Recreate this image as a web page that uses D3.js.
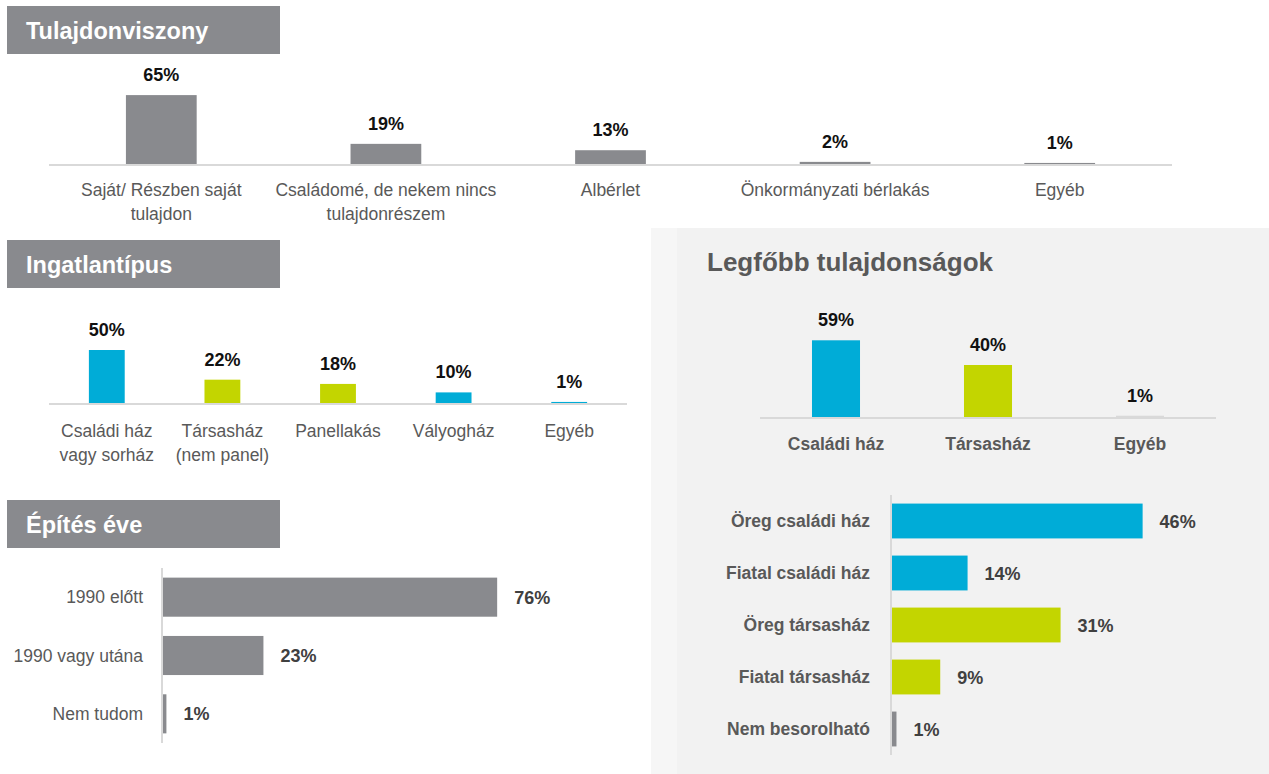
<!DOCTYPE html>
<html>
<head>
<meta charset="utf-8">
<script src="https://cdn.jsdelivr.net/npm/d3@7"></script>
<style>
  body { margin: 0; background: #fff; }
  svg { display: block; font-family: "Liberation Sans", Arial, sans-serif; }
</style>
</head>
<body>
<div id="chart"></div>
<script>
// Tulajdonviszony
const ownCats = [["Saját/ Részben saját", "tulajdon"], ["Családomé, de nekem nincs", "tulajdonrészem"], ["Albérlet"], ["Önkormányzati bérlakás"], ["Egyéb"]]
const ownVals = [65, 19, 13, 2, 1]

// Ingatlantípus
const typeCats = [["Családi ház", "vagy sorház"], ["Társasház", "(nem panel)"], ["Panellakás"], ["Vályogház"], ["Egyéb"]]
const typeVals = [50, 22, 18, 10, 1]
const typeKinds = ["csaladi", "tarsas", "tarsas", "csaladi", "csaladi"]

// Építés éve
const yearCats = ["1990 előtt", "1990 vagy utána", "Nem tudom"]
const yearVals = [76, 23, 1]

// Legfőbb tulajdonságok
const mainCats = ["Családi ház", "Társasház", "Egyéb"]
const mainVals = [59, 40, 1]
const mainKinds = ["csaladi", "tarsas", "rejtett"]

const subCats = ["Öreg családi ház", "Fiatal családi ház", "Öreg társasház", "Fiatal társasház", "Nem besorolható"]
const subVals = [46, 14, 31, 9, 1]
const subKinds = ["csaladi", "csaladi", "tarsas", "tarsas", "egyeb"]

const GRAY = "#898a8e"
const kindColor = d3.scaleOrdinal()
    .domain(["csaladi", "tarsas", "egyeb", "rejtett"])
    .range(["#00acd7", "#c3d500", GRAY, "#d9d9d9"])

const svg = d3.select("#chart")
    .append("svg")
    .attr("width", 1269)
    .attr("height", 774)

// right panel background
svg.append("rect")
    .attr("x", 651).attr("y", 228)
    .attr("width", 618).attr("height", 546)
    .attr("fill", "#f2f2f2")
svg.append("rect")
    .attr("x", 651).attr("y", 228)
    .attr("width", 26).attr("height", 546)
    .attr("fill", "#f6f6f6")

function titleBox(y, text) {
    svg.append("rect")
        .attr("x", 7).attr("y", y)
        .attr("width", 273).attr("height", 48)
        .attr("fill", GRAY)
    svg.append("text")
        .attr("x", 26).attr("y", y + 33)
        .style("font-size", "23.5px")
        .style("font-weight", "bold")
        .attr("fill", "#fff")
        .text(text)
}

function columnChart(opts) {
    const { cats, vals, colors, x0, x1, base, pxPer, barFrac, catStyle } = opts
    const x = d3.scaleBand().domain(d3.range(cats.length)).range([x0, x1]).padding(0)
    const y = d3.scaleLinear().domain([0, 100]).range([base, base - 100 * pxPer])
    const bw = x.bandwidth() * barFrac
    const g = svg.append("g")

    g.selectAll("rect.bar")
        .data(vals)
        .join("rect")
        .attr("class", "bar")
        .attr("x", (d, i) => x(i) + x.bandwidth() / 2 - bw / 2)
        .attr("y", d => y(d))
        .attr("width", bw)
        .attr("height", d => base - y(d))
        .attr("fill", (d, i) => colors[i])

    g.append("line")
        .attr("x1", x0).attr("x2", x1)
        .attr("y1", base + 1).attr("y2", base + 1)
        .attr("stroke", "#d9d9d9")
        .attr("stroke-width", 2)

    g.selectAll("text.val")
        .data(vals)
        .join("text")
        .attr("class", "val")
        .attr("x", (d, i) => x(i) + x.bandwidth() / 2)
        .attr("y", d => y(d) - 14)
        .attr("text-anchor", "middle")
        .style("font-size", "18px")
        .style("font-weight", "bold")
        .attr("fill", "#111")
        .text(d => d + "%")

    cats.forEach((lines, i) => {
        const t = g.append("text")
            .attr("x", x(i) + x.bandwidth() / 2)
            .attr("y", base + catStyle.dy)
            .attr("text-anchor", "middle")
            .style("font-size", catStyle.size)
            .style("font-weight", catStyle.weight)
            .attr("fill", "#595959")
        ;[].concat(lines).forEach((line, j) => {
            t.append("tspan")
                .attr("x", x(i) + x.bandwidth() / 2)
                .attr("dy", j === 0 ? 0 : 24)
                .text(line)
        })
    })
}

function barChart(opts) {
    const { cats, vals, colors, y0, y1, axisX, pxPer, barFrac, labelX, catStyle } = opts
    const y = d3.scaleBand().domain(d3.range(cats.length)).range([y0, y1]).padding(0)
    const x = d3.scaleLinear().domain([0, 100]).range([axisX, axisX + 100 * pxPer])
    const bh = y.bandwidth() * barFrac
    const g = svg.append("g")

    g.selectAll("rect.bar")
        .data(vals)
        .join("rect")
        .attr("class", "bar")
        .attr("x", axisX)
        .attr("y", (d, i) => y(i) + y.bandwidth() / 2 - bh / 2)
        .attr("width", d => x(d) - axisX)
        .attr("height", bh)
        .attr("fill", (d, i) => colors[i])

    g.append("line")
        .attr("x1", axisX).attr("x2", axisX)
        .attr("y1", y0).attr("y2", y1)
        .attr("stroke", "#d9d9d9")
        .attr("stroke-width", 2)

    g.selectAll("text.cat")
        .data(cats)
        .join("text")
        .attr("class", "cat")
        .attr("x", labelX)
        .attr("y", (d, i) => y(i) + y.bandwidth() / 2 + 6)
        .attr("text-anchor", "end")
        .style("font-size", catStyle.size)
        .style("font-weight", catStyle.weight)
        .attr("fill", "#595959")
        .text(d => d)

    g.selectAll("text.val")
        .data(vals)
        .join("text")
        .attr("class", "val")
        .attr("x", d => x(d) + 17)
        .attr("y", (d, i) => y(i) + y.bandwidth() / 2 + 6.5)
        .style("font-size", "18px")
        .style("font-weight", "bold")
        .attr("fill", "#404040")
        .text(d => d + "%")
}

// Tulajdonviszony
titleBox(6, "Tulajdonviszony")
columnChart({
    cats: ownCats, vals: ownVals, colors: ownVals.map(() => GRAY),
    x0: 49, x1: 1172, base: 164, pxPer: 1.06, barFrac: 0.315,
    catStyle: { dy: 32, size: "17.5px", weight: "normal" }
})

// Ingatlantípus
titleBox(240, "Ingatlantípus")
columnChart({
    cats: typeCats, vals: typeVals, colors: typeKinds.map(k => kindColor(k)),
    x0: 49, x1: 627, base: 403, pxPer: 1.06, barFrac: 0.31,
    catStyle: { dy: 34, size: "17.5px", weight: "normal" }
})

// Építés éve
titleBox(500, "Építés éve")
barChart({
    cats: yearCats, vals: yearVals, colors: yearVals.map(() => GRAY),
    y0: 568, y1: 743, axisX: 162, pxPer: 4.41, barFrac: 0.67, labelX: 143,
    catStyle: { size: "17.5px", weight: "normal" }
})

// Legfőbb tulajdonságok
svg.append("text")
    .attr("x", 707).attr("y", 271)
    .style("font-size", "26px")
    .style("font-weight", "bold")
    .attr("fill", "#595959")
    .text("Legfőbb tulajdonságok")

columnChart({
    cats: mainCats, vals: mainVals, colors: mainKinds.map(k => kindColor(k)),
    x0: 760, x1: 1216, base: 417, pxPer: 1.3, barFrac: 0.316,
    catStyle: { dy: 33, size: "17.5px", weight: "bold" }
})

barChart({
    cats: subCats, vals: subVals, colors: subKinds.map(k => kindColor(k)),
    y0: 495, y1: 755, axisX: 891, pxPer: 5.47, barFrac: 0.67, labelX: 870,
    catStyle: { size: "17.5px", weight: "bold" }
})
</script>
</body>
</html>
